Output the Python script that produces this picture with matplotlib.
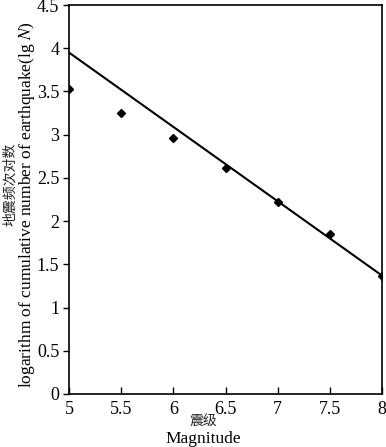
import numpy as np
from matplotlib import pyplot as plt

plt.rcParams['font.family'] = ['Liberation Serif', 'Noto Sans CJK SC']
plt.rcParams['mathtext.fontset'] = 'stix'

# Data
magnitude = [5, 5.5, 6, 6.5, 7, 7.5, 8]
lg_n = [3.53, 3.25, 2.96, 2.62, 2.22, 1.85, 1.37]

# fitted line lgN = a - b*M
a = 8.25
b = 0.86
fit_x = np.array([5, 8])
fit_y = a - b * fit_x

fig = plt.figure(figsize=(3.86, 4.47), dpi=100)
ax = fig.add_axes([69 / 386, 53 / 447, 313 / 386, 389 / 447])

ax.plot(fit_x, fit_y, color='black', lw=1.5, solid_capstyle='butt')
ax.plot(magnitude, lg_n, 'D', color='black', ms=4, clip_on=True)

ax.set_xlim(5, 8)
ax.set_ylim(0, 4.5)
ax.set_xticks([5, 5.5, 6, 6.5, 7, 7.5, 8])
ax.set_xticklabels(['5', '5.5', '6', '6.5', '7', '7.5', '8'])
ax.set_yticks([0, 0.5, 1, 1.5, 2, 2.5, 3, 3.5, 4, 4.5])
ax.set_yticklabels(['0', '0.5', '1', '1.5', '2', '2.5', '3', '3.5', '4', '4.5'])
ax.tick_params(axis='x', direction='in', length=5, width=1, labelsize=13, pad=5)
ax.tick_params(axis='y', direction='out', length=4, width=1, labelsize=13, pad=3)
for s in ax.spines.values():
    s.set_linewidth(1.2)

fig.text(10 / 386, 1 - 184 / 447, '地震频次对数', rotation=90, ha='center', va='center',
         fontsize=10, color='#222222')
fig.text(27 / 386, 1 - 205 / 447, r'logarithm of cumulative number of earthquake(lg $\mathit{N}$)',
         rotation=90, ha='center', va='center', fontsize=12.5)
fig.text(203 / 386, 1 - 422 / 447, '震级', ha='center', va='center', fontsize=10,
         color='#222222')
fig.text(203 / 386, 1 - 439 / 447, 'Magnitude', ha='center', va='center', fontsize=12.5)

fig.savefig('out.png', dpi=100)
